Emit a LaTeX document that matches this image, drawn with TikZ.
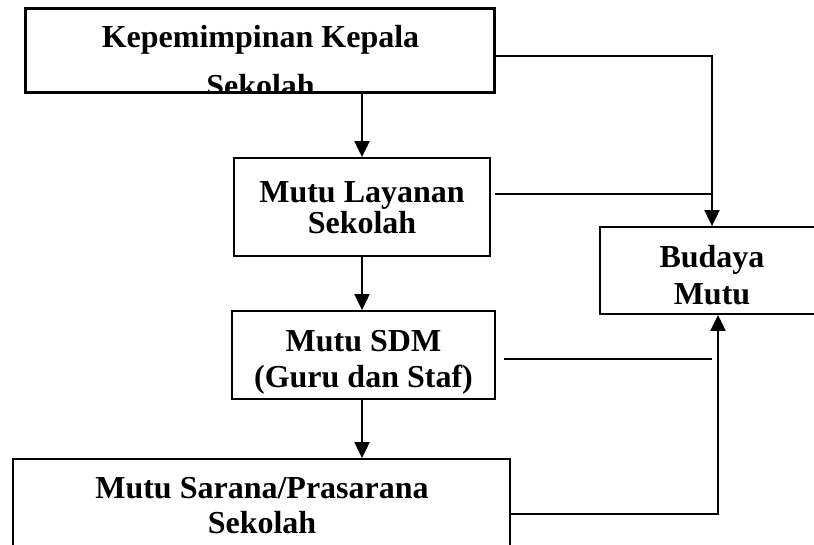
\documentclass[tikz,border=0pt]{standalone}
\usepackage{fontspec}
\setmainfont{Liberation Serif}
\usetikzlibrary{arrows.meta,calc}
\tikzset{
  box/.style={draw, line width=1.8pt, rectangle, inner sep=0pt},
  lbl/.style={font=\fontsize{32}{32}\selectfont\bfseries, anchor=base, inner sep=0pt},
  link/.style={line width=1.8pt},
  arr/.style={line width=2pt, -{Triangle[width=15pt,length=16pt]}},
}
\begin{document}
\begin{tikzpicture}[x=1pt,y=-1pt]
  \useasboundingbox (0,0) rectangle (814,545);

  % boxes
  \node[box, minimum width=468pt, minimum height=83pt] (kep) at (260,50.5) {};
  \node[box, minimum width=256pt, minimum height=98pt] (lay) at (362,207) {};
  \node[box, minimum width=224pt, minimum height=87pt] (bud) at (712,270.5) {};
  \node[box, minimum width=263pt, minimum height=88pt] (sdm) at (363.5,355) {};
  \node[box, minimum width=497pt, minimum height=110pt] (sar) at (261.5,514) {};

  % box texts (the second line of the top box runs under its lower border)
  \begin{scope}
    \clip (kep.south west) ++(1pt,1pt) rectangle ([xshift=-1pt,yshift=-1pt]kep.north east);
    \node[lbl] (kep1) at (260.5,48) {Kepemimpinan Kepala};
    \node[lbl] (kep2) at (260.5,97) {Sekolah};
  \end{scope}
  \draw[line width=1.8pt] (kep.south west) rectangle (kep.north east);

  \node[lbl] (lay1) at (362,203) {Mutu Layanan};
  \node[lbl] (lay2) at (362,234) {Sekolah};

  \node[lbl] (bud1) at (712,268) {Budaya};
  \node[lbl] (bud2) at (712,305) {Mutu};

  \node[lbl] (sdm1) at (363.5,352) {Mutu SDM};
  \node[lbl] (sdm2) at (363.5,387) {(Guru dan Staf)};

  \node[lbl] (sar1) at (262,498) {Mutu Sarana/Prasarana};
  \node[lbl] (sar2) at (262,533) {Sekolah};

  % vertical chain
  \draw[arr] (kep.south -| lay.north) -- (lay.north);
  \draw[arr] (lay.south) -- (lay.south |- sdm.north);
  \draw[arr] (sdm.south -| lay.south) -- (sar.north -| lay.south);

  % links into the culture box
  \draw[arr] ([yshift=-5.5pt]kep.east) -| (bud.north);
  \coordinate (layout) at ([xshift=4pt,yshift=13pt]lay.east);
  \draw[link] (layout) -- (layout -| bud.north);
  \coordinate (sdmout) at ([xshift=8pt,yshift=-4pt]sdm.east);
  \draw[link] (sdmout) -- (sdmout -| bud.north);
  \draw[arr] (sar.east) -| ([xshift=6pt]bud.south);
\end{tikzpicture}
\end{document}
